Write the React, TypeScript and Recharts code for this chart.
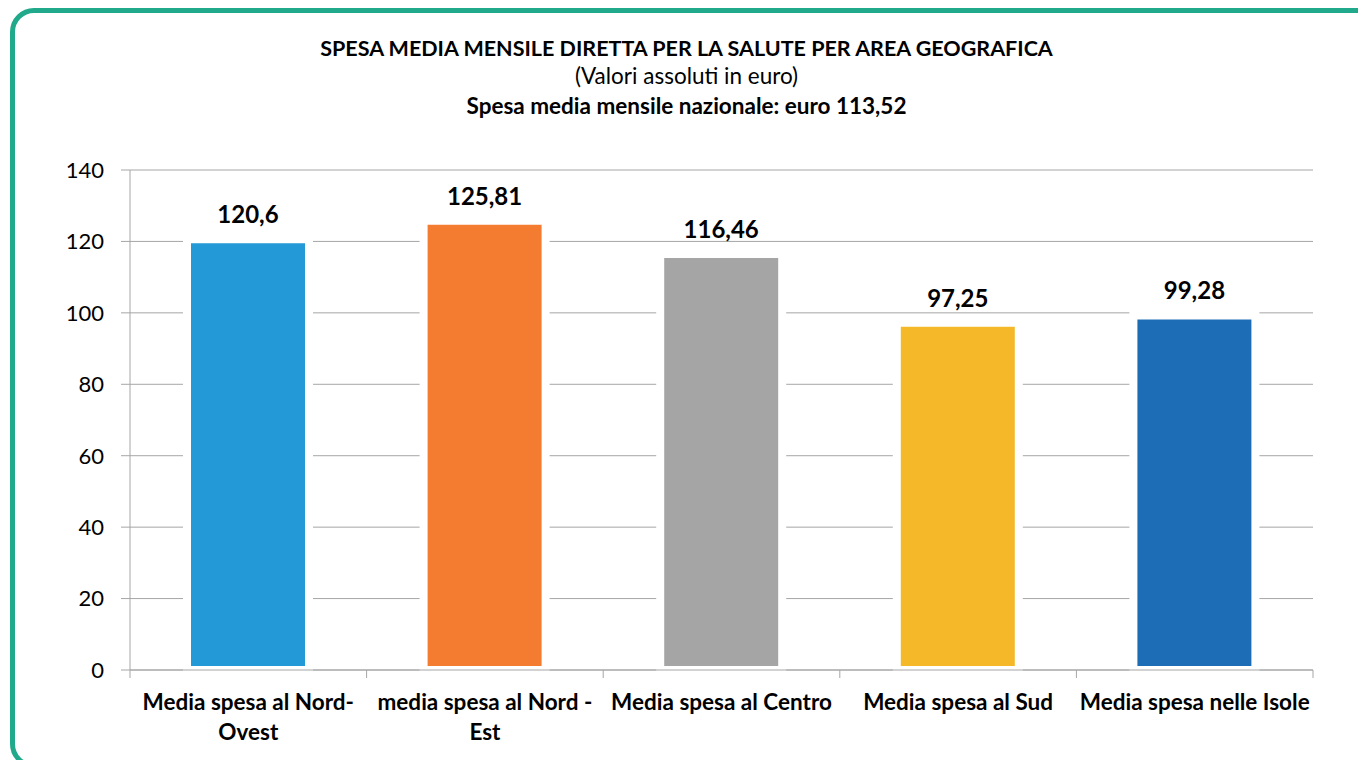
import { Bar, BarChart, CartesianGrid, Cell, LabelList, XAxis, YAxis } from 'recharts';

const areas = [
  'Media spesa al Nord-Ovest',
  'media spesa al Nord - Est',
  'Media spesa al Centro',
  'Media spesa al Sud',
  'Media spesa nelle Isole'
];
const spesa = [120.6, 125.81, 116.46, 97.25, 99.28];
const barColors = ['#2499d7', '#f47c30', '#a5a5a5', '#f4b828', '#1d6db6'];
const yTicks = [0, 20, 40, 60, 80, 100, 120, 140];

const data = areas.map((area, i) => ({ area, value: spesa[i] }));

const FONT = 'Lato, "Open Sans", sans-serif';
const GRID = '#a6a6a6';

// Excel breaks the long labels after the hyphen
function splitLabel(label: string): string[] {
  const i = label.indexOf('-');
  if (i < 0) return [label];
  return [label.slice(0, i + 1), label.slice(i + 1).trim()];
}

function CategoryTick(props: any) {
  const { x, y, payload, index } = props;
  const half = payload.offset || 118.5;
  const lines = splitLabel(String(payload.value));
  return (
    <g>
      <line x1={x - half} x2={x - half} y1={y - 8} y2={y} stroke={GRID} />
      {index === areas.length - 1 && (
        <line x1={x + half} x2={x + half} y1={y - 8} y2={y} stroke={GRID} />
      )}
      {lines.map((line, k) => (
        <text
          key={k}
          x={x}
          y={y + 32 + k * 30}
          textAnchor="middle"
          fontFamily={FONT}
          fontWeight={700}
          fontSize={22.5}
          fill="#000"
        >
          {line}
        </text>
      ))}
    </g>
  );
}

export default function App() {
  return (
    <div
      style={{
        position: 'absolute',
        left: 0,
        top: 0,
        width: 1358,
        height: 760,
        overflow: 'hidden',
        background: '#fff',
        fontFamily: FONT
      }}
    >
      <div
        style={{
          position: 'absolute',
          left: 10,
          top: 8,
          width: 1362,
          height: 750,
          border: '5px solid #20a98a',
          borderRadius: 24
        }}
      />
      <div style={{ position: 'absolute', left: 0, width: 1373, top: 35, textAlign: 'center', color: '#000' }}>
        <div style={{ fontSize: 21.5, fontWeight: 700, lineHeight: '26px' }}>
          SPESA MEDIA MENSILE DIRETTA PER LA SALUTE PER AREA GEOGRAFICA
        </div>
        <div style={{ fontSize: 22.5, lineHeight: '29px' }}>(Valori assoluti in euro)</div>
        <div style={{ fontSize: 22.5, fontWeight: 700, lineHeight: '32px' }}>
          Spesa media mensile nazionale: euro 113,52
        </div>
      </div>
      <div style={{ position: 'absolute', left: 0, top: 0 }}>
        <BarChart
          width={1358}
          height={760}
          data={data}
          margin={{ top: 170, right: 45, bottom: 0, left: 0 }}
          barSize={122}
        >
          <CartesianGrid vertical={false} stroke={GRID} />
          <XAxis
            dataKey="area"
            height={90}
            axisLine={{ stroke: GRID }}
            tickLine={false}
            interval={0}
            tick={<CategoryTick />}
          />
          <YAxis
            width={130}
            domain={[0, 140]}
            ticks={yTicks}
            axisLine={{ stroke: GRID }}
            tickLine={{ stroke: GRID }}
            tickSize={9}
            tickMargin={17}
            tick={{ fill: '#000', fontSize: 22, fontFamily: FONT }}
          />
          <Bar dataKey="value" stroke="#fff" strokeWidth={8} isAnimationActive={false}>
            {data.map((d, i) => (
              <Cell key={d.area} fill={barColors[i]} />
            ))}
            <LabelList
              dataKey="value"
              position="top"
              offset={16}
              formatter={(v: any) => String(v).replace('.', ',')}
              style={{ fill: '#000', fontSize: 24, fontWeight: 700, fontFamily: FONT }}
            />
          </Bar>
        </BarChart>
      </div>
    </div>
  );
}
